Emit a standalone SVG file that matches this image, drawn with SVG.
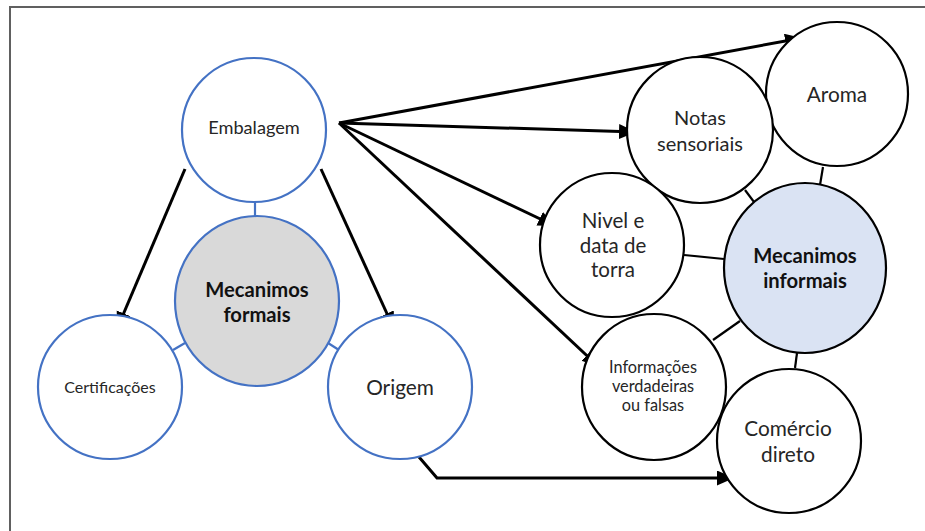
<svg xmlns="http://www.w3.org/2000/svg" width="925" height="531" viewBox="0 0 925 531">
<style>
.bg{fill:#ffffff}
.frame{fill:none;stroke:#606060;stroke-width:2}
.nb{fill:#ffffff;stroke:#4472c4;stroke-width:2.2}
.nk{fill:#ffffff;stroke:#000000;stroke-width:2.2}
.gray{fill:#d9d9d9}
.blue{fill:#dae3f3}
.link{stroke-width:2.2;fill:none}
.lb{stroke:#4472c4}
.lk{stroke:#000000}
.arr{stroke:#000000;stroke-width:3;fill:none;marker-end:url(#ah)}
text{font-family:Lato,"Open Sans","Liberation Sans",sans-serif;fill:#262626;text-anchor:middle}
.b{font-weight:bold;fill:#111111}
</style>
<defs>
<marker id="ah" markerUnits="userSpaceOnUse" markerWidth="18" markerHeight="16" refX="17" refY="7.5" orient="auto">
<path d="M0,0 L17,7.5 L0,15 Z" fill="#000000"/>
</marker>
</defs>
<rect class="bg" x="0" y="0" width="925" height="531"/>
<path class="frame" d="M10,531 L10,7 L925,7"/>
<g id="connectors">
<line class="link lb" x1="255" y1="202" x2="255" y2="216"/>
<line class="link lb" x1="173" y1="350" x2="185" y2="343"/>
<line class="link lb" x1="328" y1="343" x2="339" y2="350"/>
<line class="link lk" x1="823" y1="167" x2="820" y2="185"/>
<line class="link lk" x1="745" y1="190" x2="754" y2="202"/>
<line class="link lk" x1="684" y1="255" x2="724" y2="259"/>
<line class="link lk" x1="713" y1="340" x2="740" y2="321"/>
<line class="link lk" x1="797" y1="353" x2="795" y2="368"/>
<line class="arr" x1="185" y1="169" x2="117" y2="329"/>
<line class="arr" x1="321" y1="169" x2="394" y2="329"/>
<polyline class="arr" points="419,457 437,478 734,478"/>
<line class="arr" x1="339" y1="123" x2="802" y2="38"/>
<line class="arr" x1="339" y1="123" x2="636" y2="132"/>
<line class="arr" x1="339" y1="123" x2="555" y2="226"/>
<line class="arr" x1="339" y1="123" x2="599" y2="367"/>
</g>
<g id="embalagem">
<circle class="nb" cx="254" cy="130" r="72"/>
<text x="254" y="134" font-size="18.2">Embalagem</text>
</g>
<g id="mecanimos-formais">
<ellipse class="nb gray" cx="257" cy="301" rx="82" ry="85"/>
<text class="b" x="257" y="297" font-size="20.2">Mecanimos</text>
<text class="b" x="257" y="322" font-size="20.2">formais</text>
</g>
<g id="certificacoes">
<circle class="nb" cx="110" cy="387" r="72"/>
<text x="110" y="393" font-size="16">Certificações</text>
</g>
<g id="origem">
<circle class="nb" cx="400" cy="387" r="72"/>
<text x="400" y="395" font-size="20.8">Origem</text>
</g>
<g id="aroma">
<ellipse class="nk" cx="837" cy="94" rx="71" ry="72"/>
<text x="837" y="102" font-size="20.8">Aroma</text>
</g>
<g id="notas-sensoriais">
<circle class="nk" cx="700" cy="130" r="73"/>
<text x="700" y="125" font-size="20">Notas</text>
<text x="700" y="151" font-size="20">sensoriais</text>
</g>
<g id="nivel-data-torra">
<circle class="nk" cx="612" cy="245" r="72"/>
<text x="613" y="228" font-size="20.5">Nivel e</text>
<text x="613" y="253" font-size="20.5">data de</text>
<text x="613" y="277" font-size="20.5">torra</text>
</g>
<g id="mecanimos-informais">
<ellipse class="nk blue" cx="805" cy="268" rx="81" ry="85"/>
<text class="b" x="805" y="263" font-size="20.2">Mecanimos</text>
<text class="b" x="805" y="288" font-size="20.2">informais</text>
</g>
<g id="informacoes">
<ellipse class="nk" cx="654" cy="387" rx="72" ry="73"/>
<text x="653" y="373" font-size="16.3">Informações</text>
<text x="653" y="392" font-size="16.3">verdadeiras</text>
<text x="653" y="411" font-size="16.3">ou falsas</text>
</g>
<g id="comercio-direto">
<circle class="nk" cx="789" cy="441" r="72"/>
<text x="788" y="436" font-size="20.8">Comércio</text>
<text x="788" y="462" font-size="20.8">direto</text>
</g>
</svg>
